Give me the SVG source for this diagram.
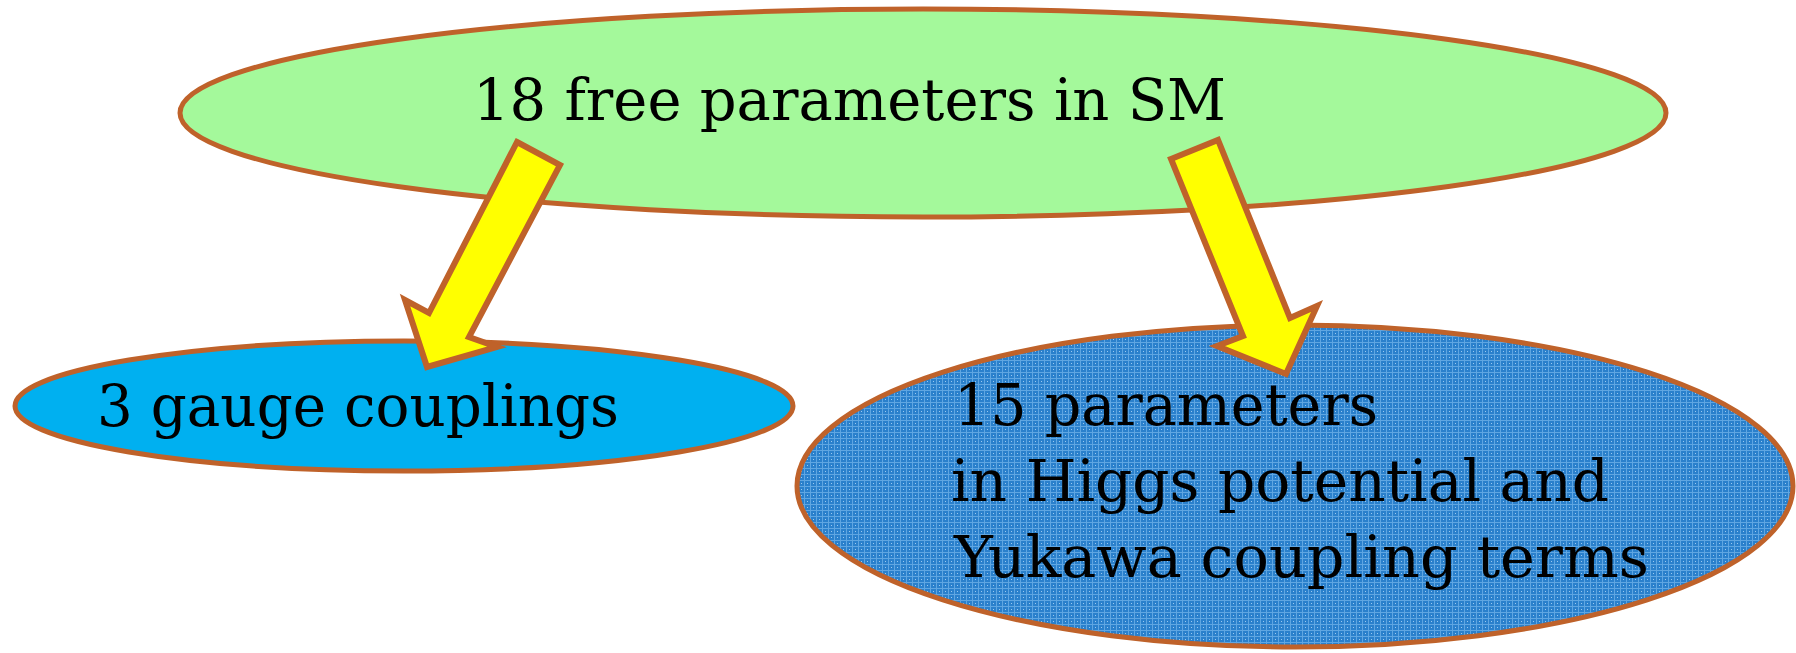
<svg xmlns="http://www.w3.org/2000/svg" width="1796" height="653" viewBox="0 0 1796 653">
<style>
.node{stroke:#bf622a;stroke-width:5}
.arrow{fill:#ffff00;stroke:#bf622a;stroke-width:6;stroke-linejoin:miter}
.lbl{font-family:"DejaVu Serif","Liberation Serif",serif;font-size:58px;fill:#000}
</style>
<defs>
<pattern id="plaid" width="6" height="6" patternUnits="userSpaceOnUse">
<rect width="6" height="6" fill="#2a80cc"/>
<rect x="0" y="0" width="6" height="1" fill="#5fa6e2"/>
<rect x="0" y="0" width="1" height="6" fill="#5fa6e2"/>
<rect x="3" y="3" width="1" height="1" fill="#9cc8ee"/>
</pattern>
</defs>
<g id="node-top">
<ellipse class="node" cx="923" cy="113" rx="743" ry="104" fill="#a4f99b"/>
<text class="lbl" x="473" y="120" textLength="753" lengthAdjust="spacingAndGlyphs">18 free parameters in SM</text>
</g>
<g id="node-left">
<ellipse class="node" cx="404" cy="406" rx="389" ry="65" fill="#00b0f0"/>
<text class="lbl" x="97" y="426" textLength="522" lengthAdjust="spacingAndGlyphs">3 gauge couplings</text>
</g>
<g id="node-right">
<ellipse class="node" cx="1295" cy="486" rx="498" ry="161" fill="url(#plaid)"/>
<text class="lbl" x="954" y="425" textLength="424" lengthAdjust="spacingAndGlyphs">15 parameters</text>
<text class="lbl" x="951" y="501" textLength="658" lengthAdjust="spacingAndGlyphs">in Higgs potential and</text>
<text class="lbl" x="954" y="577" textLength="695" lengthAdjust="spacingAndGlyphs">Yukawa coupling terms</text>
</g>
<g id="connectors">
<polygon class="arrow" points="517,142 560,165 469,337 497,347 427,367 405,300 429,313"/>
<polygon class="arrow" points="1171,159 1218,140 1290,318 1317,306 1286,374 1217,346 1243,336"/>
</g>
</svg>
